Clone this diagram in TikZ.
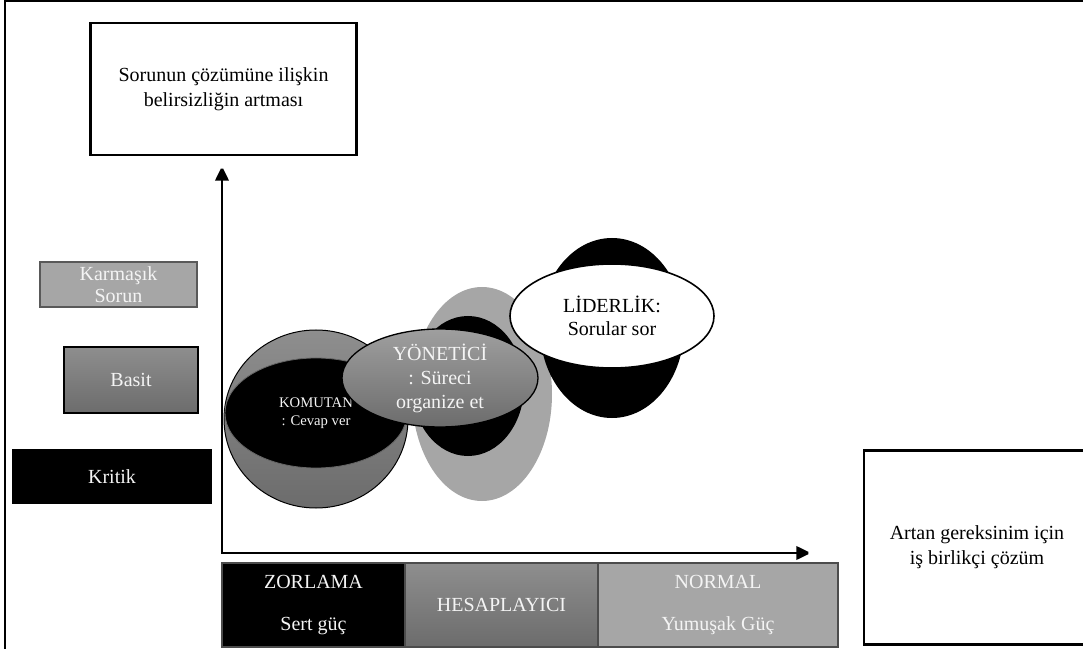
\documentclass[tikz,border=0pt]{standalone}
\usepackage{fontspec}
\setmainfont{Liberation Serif}
\usepackage{tikz}
\usetikzlibrary{arrows.meta,shapes.geometric}

\definecolor{lgray}{HTML}{A6A6A6}
\definecolor{mgray}{HTML}{8E8E8E}
\definecolor{dgray}{HTML}{6C6C6C}
\definecolor{wtext}{HTML}{F4F4F4}

\begin{document}
\begin{tikzpicture}[x=0.75pt,y=-0.75pt,
  txt/.style={font=\fontsize{15}{18.75}\selectfont,align=center},
  wbox/.style={draw,line width=2.2pt,fill=white,inner sep=0pt,txt},
  gbox/.style={draw=black!70,line width=0.8pt,inner sep=0pt,txt,text=wtext},
  blob/.style={ellipse,inner sep=0pt}]

% page size
\clip (0,0) rectangle (1083,649);

% outer frame
\draw[line width=0.9pt] (5,649) -- (5,1) -- (1083,1);

% uncertainty box
\node[wbox,minimum width=200pt,minimum height=99pt] (uncert) at (223.5,89) {Sorunun çözümüne ilişkin\\belirsizliğin artması};

% problem types
\node[gbox,fill=lgray,draw=black!65,line width=1.5pt,minimum width=118pt,minimum height=34pt,font=\fontsize{15}{16.5}\selectfont] (complex) at (118.5,284.5) {Karmaşık\\Sorun};
\node[gbox,top color=mgray,bottom color=dgray,draw=black,minimum width=100.5pt,minimum height=49.5pt] (simple) at (131,380) {Basit};
\node[gbox,fill=black,draw=black,minimum width=148.5pt,minimum height=40pt] (critical) at (112,476.5) {Kritik};

% axes
\coordinate (origin) at (222,553);
\coordinate (ytip) at (222,166);
\coordinate (xtip) at (811,553);
\draw[line width=2pt,miter limit=2,{Triangle[length=11pt,width=10pt]}-{Triangle[length=11pt,width=10pt]}] (ytip) -- (origin) -- (xtip);

% power bar
\node[gbox,fill=black,minimum width=137.25pt,minimum height=63pt] (coerce) at (313.5,605) {ZORLAMA\\[13pt]Sert güç};
\node[gbox,top color=mgray,bottom color=dgray,minimum width=144.75pt,minimum height=63pt] (calc) at (501.5,605) {HESAPLAYICI};
\node[gbox,fill=lgray,minimum width=180pt,minimum height=63pt] (normal) at (718,605) {NORMAL\\[13pt]Yumuşak Güç};

% collaboration box
\node[wbox,minimum width=169.5pt,minimum height=146pt] (collab) at (977,547.5) {Artan gereksinim için\\iş birlikçi çözüm};

% manager backing
\node[blob,fill=lgray,minimum width=105pt,minimum height=160.5pt] (midback) at (482,394) {};
\node[blob,fill=black,minimum width=84pt,minimum height=105pt] (midcore) at (468,386) {};

% commander
\node[blob,draw,line width=0.75pt,top color=mgray,bottom color=dgray,minimum width=138pt,minimum height=133.5pt] (cmdsphere) at (316,419) {};
\node[blob,fill=black,draw=black!60,line width=0.6pt,minimum width=136.5pt,minimum height=82.5pt,text=wtext,font=\fontsize{11}{13.5}\selectfont,align=center] (commander) at (316,413) {KOMUTAN\\: Cevap ver};

% leadership
\node[blob,fill=black,minimum width=108pt,minimum height=135pt] (leadback) at (612,328) {};
\node[blob,draw,line width=1.2pt,fill=white,font=\fontsize{15}{17.25}\selectfont,align=center,minimum width=153pt,minimum height=78pt] (leader) at (612,316) {LİDERLİK:\\Sorular sor};

% manager
\node[blob,draw,line width=1pt,top color=mgray!85!white,bottom color=dgray,font=\fontsize{15}{18}\selectfont,align=center,text=wtext,minimum width=147pt,minimum height=73.5pt] (manager) at (440,378) {YÖNETİCİ\\: Süreci\\organize et};

\end{tikzpicture}
\end{document}
